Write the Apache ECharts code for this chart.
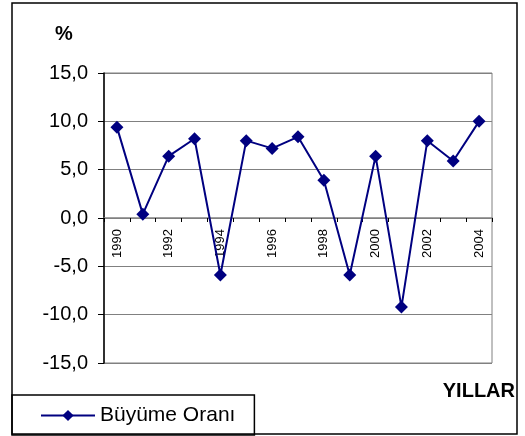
<!DOCTYPE html>
<html style="height: 100%">
  <head>
    <meta charset="UTF-8" />
    <title>Büyüme Oranı</title>
    <script src="https://cdn.jsdelivr.net/npm/echarts@6/dist/echarts.min.js"></script>
  </head>
  <body style="height: 100%; margin: 0; background: #fff">
    <div id="main" style="width: 525px; height: 436px"></div>
    <script>
      const chart = echarts.init(document.getElementById('main'))

      const years = ['1990', '1991', '1992', '1993', '1994', '1995', '1996', '1997',
        '1998', '1999', '2000', '2001', '2002', '2003', '2004']
      const growth = [9.4, 0.4, 6.4, 8.2, -5.9, 8.0, 7.2, 8.4, 3.9, -5.9, 6.4, -9.2, 8.0, 5.9, 10.0]
      const seriesName = 'Büyüme Oranı'

      const font = 'Liberation Sans, Arial, sans-serif'

      // plot box: y from -15 (bottom) to 15 (top), zero line sits halfway
      const gridTop = 73
      const gridBottom = 73
      const plotHeight = 436 - gridTop - gridBottom

      const option = {
        animation: false,
        textStyle: { fontFamily: font },
        graphic: [
          {
            type: 'rect',
            shape: { x: 12, y: 3, width: 505, height: 431 },
            style: { fill: 'none', stroke: '#000', lineWidth: 1.5 },
            z: 0,
          },
          {
            type: 'text',
            left: 55,
            top: 24,
            style: { text: '%', font: 'bold 20px ' + font, fill: '#000' },
          },
          {
            type: 'text',
            right: 10,
            top: 381,
            style: { text: 'YILLAR', font: 'bold 20px ' + font, fill: '#000' },
          },
        ],
        legend: {
          left: 12,
          top: 395,
          padding: [10, 19, 9, 28],
          borderColor: '#000',
          borderWidth: 1.5,
          itemWidth: 54,
          itemHeight: 14,
          itemGap: 6,
          textStyle: { fontSize: 21, color: '#000', fontFamily: font },
          data: [seriesName],
        },
        grid: {
          left: 104,
          right: 33,
          top: gridTop,
          bottom: gridBottom,
          show: true,
          borderColor: '#808080',
          borderWidth: 1,
        },
        xAxis: {
          type: 'category',
          data: years,
          boundaryGap: true,
          position: 'bottom',
          offset: -plotHeight / 2,
          axisLine: { onZero: false, lineStyle: { color: '#808080', width: 1.5 } },
          axisTick: { show: true, interval: 0, length: 4, lineStyle: { color: '#000' } },
          axisLabel: {
            interval: 1,
            rotate: 90,
            margin: 11,
            fontSize: 13,
            color: '#000',
            fontFamily: font,
          },
        },
        yAxis: {
          type: 'value',
          min: -15,
          max: 15,
          interval: 5,
          axisLine: { show: true, lineStyle: { color: '#000', width: 1.5 } },
          axisTick: { show: true, length: 6, lineStyle: { color: '#000' } },
          axisLabel: {
            margin: 16,
            fontSize: 20,
            color: '#000',
            fontFamily: font,
            formatter: (v) => v.toFixed(1).replace('.', ','),
          },
          splitLine: { show: true, lineStyle: { color: '#808080', width: 1 } },
        },
        series: [
          {
            name: seriesName,
            type: 'line',
            data: growth,
            symbol: 'diamond',
            symbolSize: 13,
            z: 5,
            lineStyle: { color: '#000080', width: 2 },
            itemStyle: { color: '#000080' },
          },
        ],
      }

      chart.setOption(option)
    </script>
  </body>
</html>
